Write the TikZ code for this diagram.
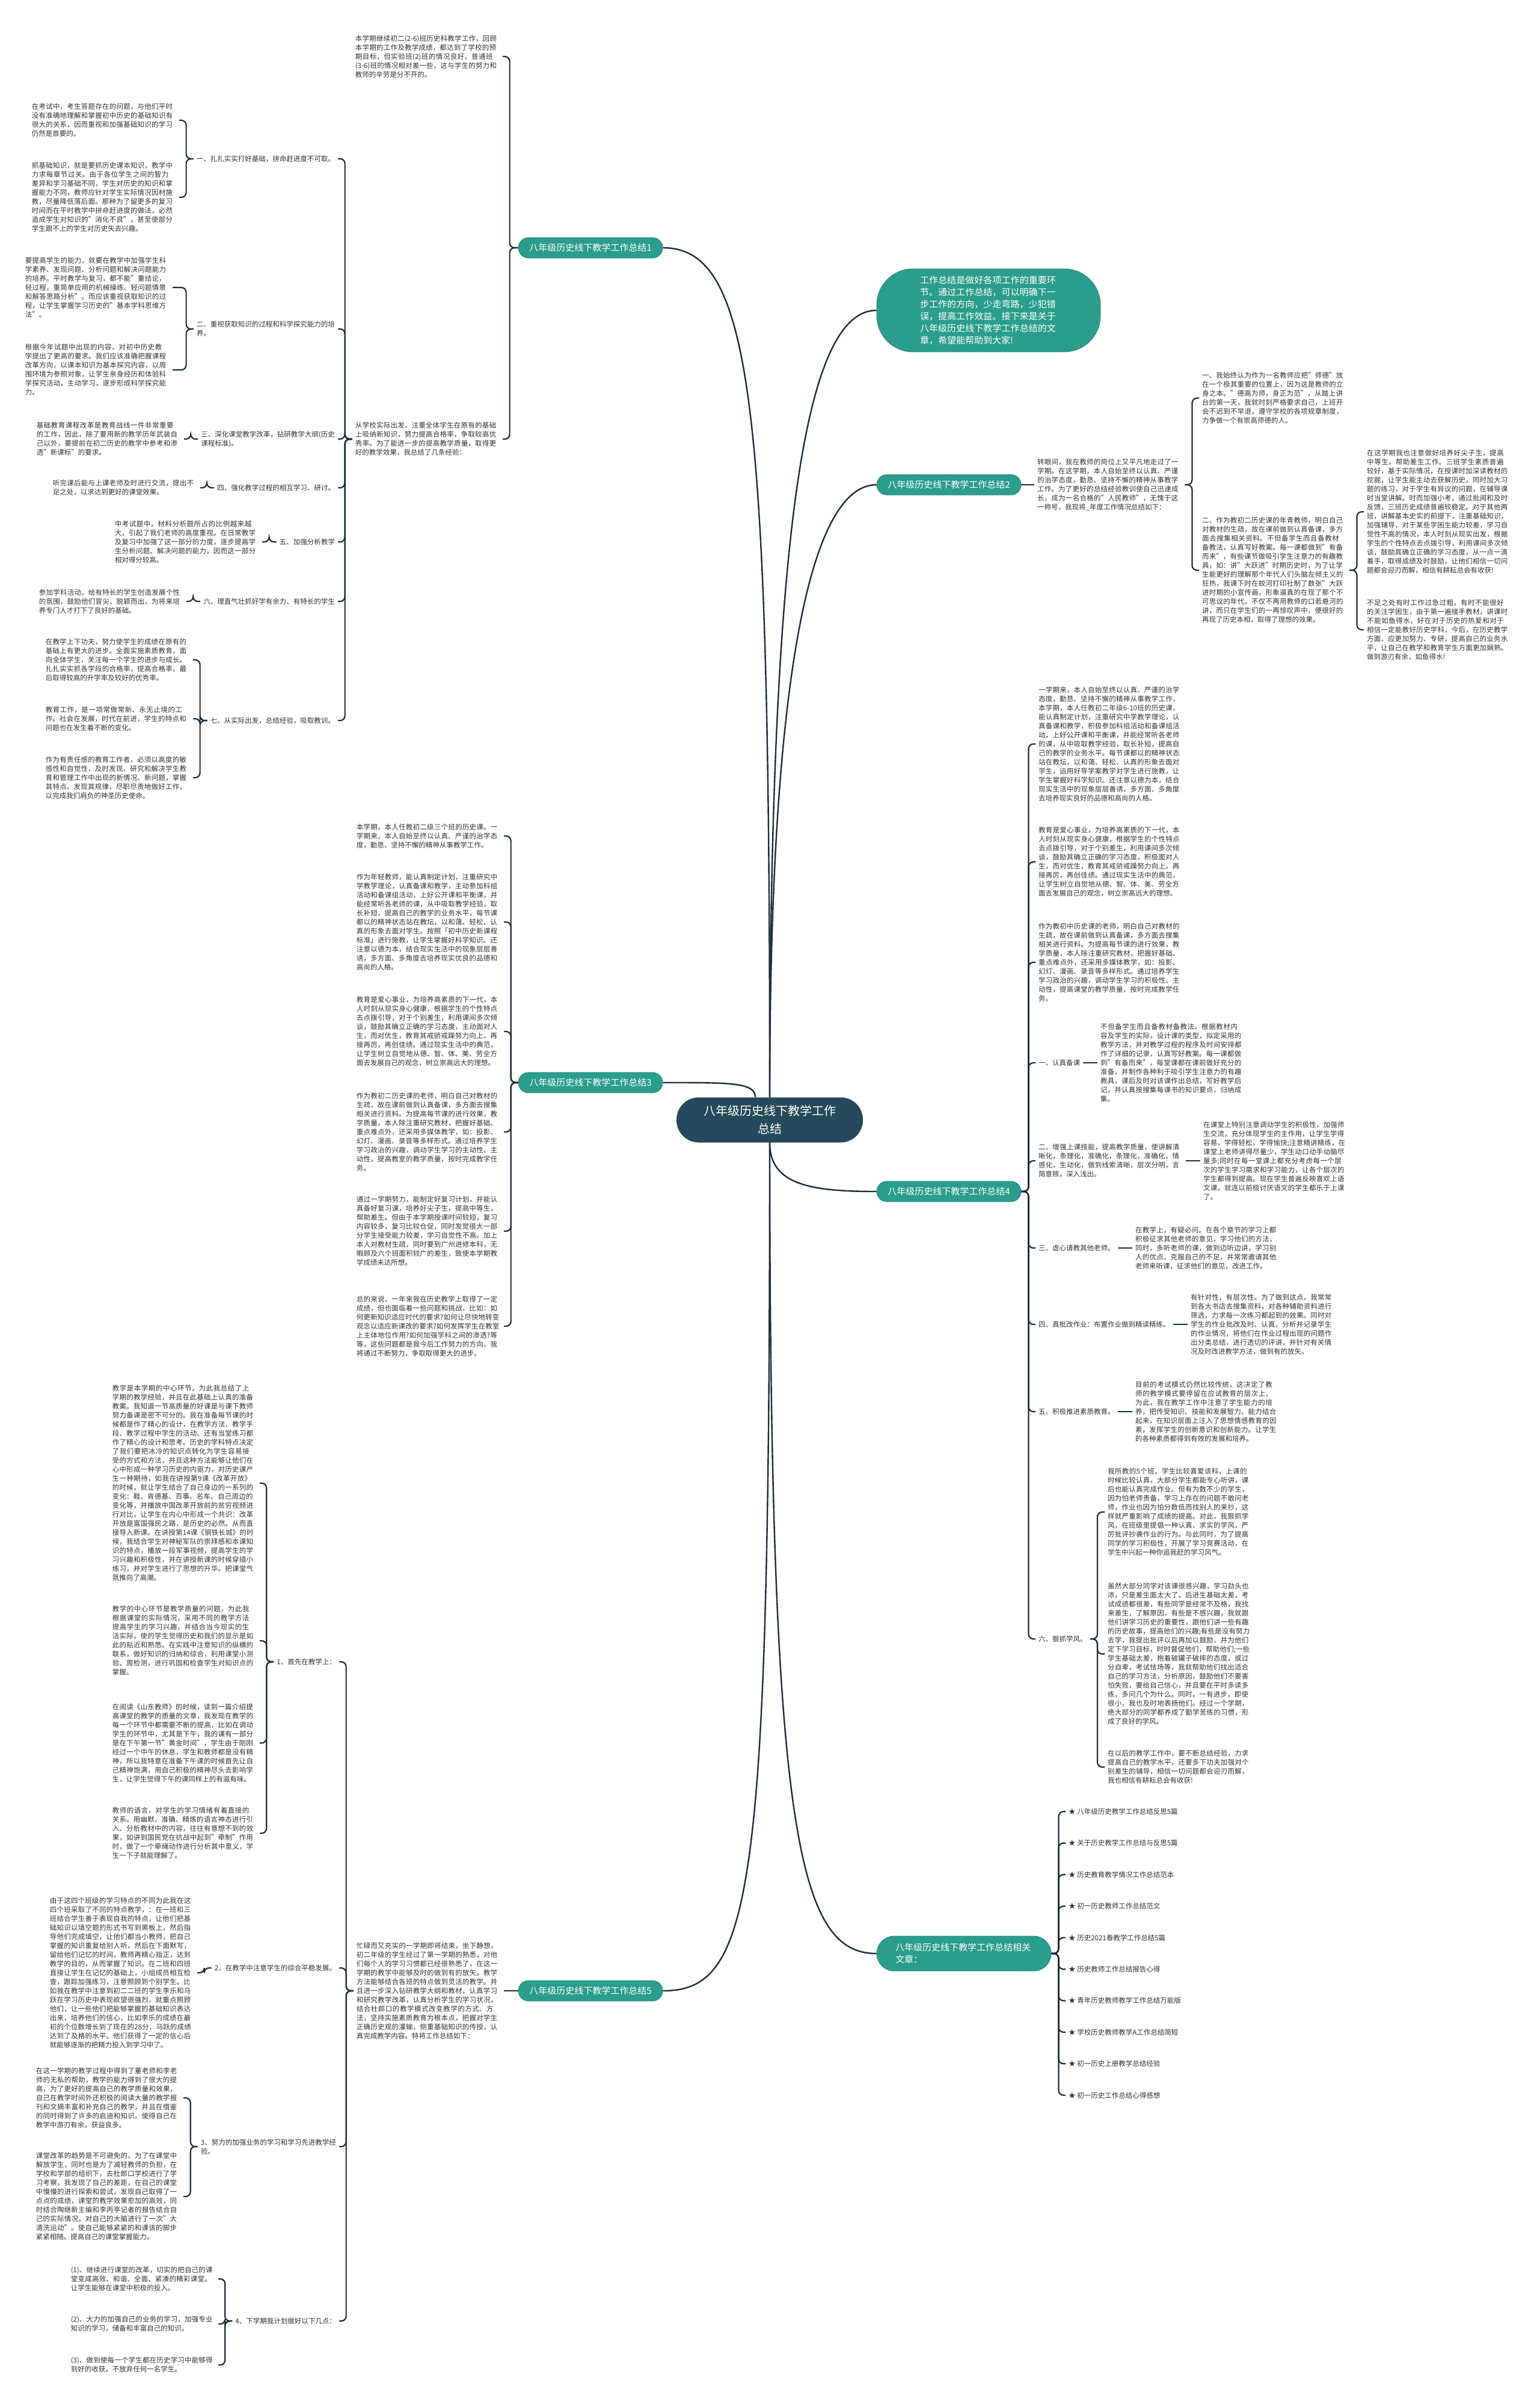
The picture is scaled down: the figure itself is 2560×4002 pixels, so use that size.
\documentclass[tikz,border=0pt]{standalone}
\usepackage{fontspec}
\setmainfont{Noto Sans CJK SC}
\XeTeXlinebreaklocale "zh"
\XeTeXlinebreakskip = 0pt plus 1pt
\definecolor{rootfill}{HTML}{27495B}
\definecolor{topicfill}{HTML}{2B9D8C}
\definecolor{wire}{HTML}{1B2E3A}
\definecolor{ink}{HTML}{333333}
\tikzset{
  rootbox/.style={fill=rootfill, text=white, rounded corners=37pt, minimum width=310pt,
    minimum height=75pt, align=center, font=\fontsize{20}{30}\selectfont},
  topic/.style={fill=topicfill, draw=topicfill!85!black, line width=0.8pt, text=white,
    rounded corners=17pt, minimum width=240pt, minimum height=34pt, font=\fontsize{15}{20}\selectfont},
  para/.style={text width=240pt, align=left, inner xsep=5pt, inner ysep=0pt, text=ink,
    font=\fontsize{11.5}{15}\selectfont},
  tag/.style={align=left, inner xsep=5pt, inner ysep=0pt, text=ink, font=\fontsize{11.5}{15}\selectfont},
  trunk/.style={draw=wire, line width=2.4pt},
  twig/.style={draw=wire, line width=2.2pt, rounded corners=8pt},
}

\begin{document}
\begin{tikzpicture}[x=1pt, y=-1pt]
  \fill[white] (0,0) rectangle (2560,4002);
  \useasboundingbox (0,0) rectangle (2560,4002);
  % Centro
  \node[rootbox] (root) at (1280,1862) {八年级历史线下教学工作\\总结};
  % Ramos
  \node[topic] (t1) at (982,412)  {八年级历史线下教学工作总结1};
  \node[topic, text width=228pt, inner xsep=72pt, align=left, minimum height=138pt,
        rounded corners=60pt] (lead) at (1644,516)
    {工作总结是做好各项工作的重要环节。通过工作总结，可以明确下一步工作的方向，少走弯路，少犯错误，提高工作效益。接下来是关于八年级历史线下教学工作总结的文章，希望能帮助到大家!};
  \node[topic] (t2) at (1578,806)  {八年级历史线下教学工作总结2};
  \node[topic] (t3) at (982,1800)  {八年级历史线下教学工作总结3};
  \node[topic] (t4) at (1578,1981) {八年级历史线下教学工作总结4};
  \node[topic] (t5) at (982,3310)  {八年级历史线下教学工作总结5};
  \node[topic, text width=228pt, inner xsep=31pt, align=left, minimum height=58pt,
        rounded corners=29pt] (rel) at (1603,3248) {八年级历史线下教学工作总结相关\\文章：};
  \draw[trunk] (root.north) .. controls +(0,-1150) and +(150,0) .. (t1.east);
  \draw[trunk] (root.north) .. controls +(0,-1000) and +(-110,0) .. (lead.west);
  \draw[trunk] (root.north) .. controls +(0,-700) and +(-110,0) .. (t2.west);
  \draw[trunk] (t3.east) .. controls +(110,0) and +(0,-25) .. ([xshift=-24pt]root.north);
  \draw[trunk] (root.south) .. controls +(0,70) and +(-110,0) .. (t4.west);
  \draw[trunk] (root.south) .. controls +(0,1250) and +(150,0) .. (t5.east);
  \draw[trunk] (root.south) .. controls +(0,1150) and +(-130,0) .. (rel.west);

  %总结1
  \node[para, anchor=east] (t1a) at (836,94) {本学期继续初二(2-6)班历史科教学工作，回顾本学期的工作及教学成绩，都达到了学校的预期目标，但实验班(2)班的情况良好，普通班(3-6)班的情况相对差一些，这与学生的努力和教师的辛劳是分不开的。};
  \node[para, anchor=east] (t1b) at (836,730) {从学校实际出发，注重全体学生在原有的基础上吸纳新知识，努力提高合格率，争取较高优秀率。为了能进一步的提高教学质量，取得更好的教学效果，我总结了几条经验：};
  \node[tag, anchor=east] (t1l1) at (562,264)  {一、扎扎实实打好基础，拼命赶进度不可取。};
  \node[tag, anchor=east] (t1l2) at (562,547)  {二、重视获取知识的过程和科学探究能力的培\\养。};
  \node[tag, anchor=east] (t1l3) at (562,730)  {三、深化课堂教学改革，钻研教学大纲(历史\\课程标准)。};
  \node[tag, anchor=east] (t1l4) at (562,811)  {四、强化教学过程的相互学习、研讨。};
  \node[tag, anchor=east] (t1l5) at (562,901)  {五、加强分析教学};
  \node[tag, anchor=east] (t1l6) at (562,1000) {六、理直气壮抓好学有余力、有特长的学生};
  \node[tag, anchor=east] (t1l7) at (562,1198) {七、从实际出发，总结经验，吸取教训。};
  \node[para, anchor=east] (t1l1a) at (298,200) {在考试中，考生答题存在的问题，与他们平时没有准确地理解和掌握初中历史的基础知识有很大的关系，因而重视和加强基础知识的学习仍然是首要的。};
  \node[para, anchor=east] (t1l1b) at (298,328) {抓基础知识，就是要抓历史课本知识，教学中力求每章节过关。由于各位学生之间的智力差异和学习基础不同，学生对历史的知识和掌握能力不同，教师应针对学生实际情况因材施教，尽量降低落后面。那种为了留更多的复习时间而在平时教学中拼命赶进度的做法，必然造成学生对知识的"消化不良"，甚至使部分学生跟不上的学生对历史失去兴趣。};
  \node[para, anchor=east] (t1l2a) at (287,478) {要提高学生的能力，就要在教学中加强学生科学素养、发现问题、分析问题和解决问题能力的培养。平时教学与复习，都不能"重结论，轻过程，重简单应用的机械操练、轻问题情景和解答思路分析"。而应该重视获取知识的过程，让学生掌握学习历史的"基本学科思维方法"。};
  \node[para, anchor=east] (t1l2b) at (287,615) {根据今年试题中出现的内容，对初中历史教学提出了更高的要求。我们应该准确把握课程改革方向，以课本知识为基本探究内容，以周围环境为参照对象，让学生亲身经历和体验科学探究活动，主动学习，逐步形成科学探究能力。};
  \node[para, anchor=east] (t1l3a) at (306,730) {基础教育课程改革是教育战线一件非常重要的工作，因此，除了要用新的教学历年武装自己以外，要提前在初二历史的教学中参考和渗透"新课标"的要求。};
  \node[para, anchor=east] (t1l4a) at (333,811) {听完课后能与上课老师及时进行交流，提出不足之处，以求达到更好的课堂效果。};
  \node[para, anchor=east] (t1l5a) at (436,901) {中考试题中，材料分析题所占的比例越来越大，引起了我们老师的高度重视。在日常教学及复习中加强了这一部分的力度，逐步提高学生分析问题、解决问题的能力，因而这一部分相对得分较高。};
  \node[para, anchor=east] (t1l6a) at (310,1000) {参加学科活动，给有特长的学生创造发展个性的氛围，鼓励他们冒尖，脱颖而出，为将来培养专门人才打下了良好的基础。};
  \node[para, anchor=east] (t1l7a) at (321,1097) {在教学上下功夫，努力使学生的成绩在原有的基础上有更大的进步。全面实施素质教育，面向全体学生，关注每一个学生的进步与成长。扎扎实实抓各学段的合格率，提高合格率，最后取得较高的升学率及较好的优秀率。};
  \node[para, anchor=east] (t1l7b) at (321,1195) {教育工作，是一项常做常新、永无止境的工作。社会在发展，时代在前进，学生的特点和问题也在发生着不断的变化。};
  \node[para, anchor=east] (t1l7c) at (321,1293) {作为有责任感的教育工作者，必须以高度的敏感性和自觉性，及时发现、研究和解决学生教育和管理工作中出现的新情况、新问题，掌握其特点、发现其规律，尽职尽责地做好工作，以完成我们肩负的神圣历史使命。};
  \draw[twig] (t1.west) -- ++(-14,0) |- (t1a.east);
  \draw[twig] (t1.west) -- ++(-14,0) |- (t1b.east);
  \foreach \k in {1,...,7}
    \draw[twig] (t1b.west) -- ++(-12,0) |- (t1l\k.east);
  \foreach \p/\c in {1/a,1/b,2/a,2/b,3/a,4/a,5/a,6/a,7/a,7/b,7/c}
    \draw[twig] (t1l\p.west) -- ++(-12,0) |- (t1l\p\c.east);

  % 总结2
  \node[para, anchor=west] (t2a) at (1720,806) {转眼间，我在教师的岗位上又平凡地走过了一学期。在这学期，本人自始至终以认真、严谨的治学态度，勤恳、坚持不懈的精神从事教学工作。为了更好的总结经验教训使自己迅速成长，成为一名合格的"人民教师"，无愧于这一称号，我现将\_年度工作情况总结如下：};
  \node[para, anchor=west] (t2b) at (1994,662) {一、我始终认为作为一名教师应把"师德"放在一个极其重要的位置上，因为这是教师的立身之本。"德高为师，身正为范"，从踏上讲台的第一天，我就时刻严格要求自己，上班开会不迟到不早退，遵守学校的各项规章制度，力争做一个有崇高师德的人。};
  \node[para, anchor=west] (t2c) at (1994,948) {二、作为教初二历史课的年青教师，明白自己对教材的生疏，故在课前做到认真备课，多方面去搜集相关资料。不但备学生而且备教材备教法，认真写好教案。每一课都做到"有备而来"，有些课节做吸引学生注意力的有趣教具，如：讲"大跃进"时期历史时，为了让学生能更好的理解那个年代人们头脑左倾主义的狂热，我课下时在蛟河打印社制了数张"大跃进时期的小宣传画，形象逼真的在现了那个不可思议的年代，不仅不再用教师的口若悬河的讲，而只在学生们的一再惊叹声中，便很好的再现了历史本相，取得了理想的效果。};
  \node[para, anchor=west] (t2c1) at (2268,851) {在这学期我也注意做好培养好尖子生，提高中等生，帮助差生工作。三班学生素质普遍较好，基于实际情况，在授课时加深读教材的挖掘，让学生能主动去获解历史，同时加大习题的练习，对于学生有异议的问题，在辅导课时当堂讲解。时而加强小考，通过批阅和及时反馈，三班历史成绩普遍较稳定。对于其他两班，讲解基本史实的前提下，注重基础知识，加强辅导，对于某些学困生能力较差，学习自觉性不高的情况，本人时刻从现实出发，根据学生的个性特点去点拨引导，利用课间多次倾谈，鼓励其确立正确的学习态度，从一点一滴着手，取得成绩及时鼓励，让他们相信一切问题都会迎刃而解，相信有耕耘总会有收获!};
  \node[para, anchor=west] (t2c2) at (2268,1047) {不足之处有时工作过急过粗，有时不能很好的关注学困生，由于第一遍接手教材，讲课时不能如鱼得水，好在对于历史的热爱和对于相信一定能教好历史学科，今后，在历史教学方面，应更加努力、专研，提高自己的业务水平，让自己在教学和教育学生方面更加娴熟。做到游刃有余，如鱼得水!};
  \draw[twig] (t2.east) -- (t2a.west);
  \draw[twig] (t2a.east) -- ++(12,0) |- (t2b.west);
  \draw[twig] (t2a.east) -- ++(12,0) |- (t2c.west);
  \draw[twig] (t2c.east) -- ++(12,0) |- (t2c1.west);
  \draw[twig] (t2c.east) -- ++(12,0) |- (t2c2.west);

  % 总结3
  \node[para, anchor=east] (t3a) at (838,1390) {本学期，本人任教初二级三个班的历史课。一学期来，本人自始至终以认真、严谨的治学态度，勤恳、坚持不懈的精神从事教学工作。};
  \node[para, anchor=east] (t3b) at (838,1533) {作为年轻教师，能认真制定计划，注重研究中学教学理论，认真备课和教学，主动参加科组活动和备课组活动，上好公开课和平衡课，并能经常听各老师的课，从中吸取教学经验，取长补短，提高自己的教学的业务水平，每节课都以的精神状态站在教坛，以和蔼、轻松、认真的形象去面对学生。按照「初中历史新课程标准」进行施教，让学生掌握好科学知识。还注意以德为本，结合现实生活中的现象层层善诱，多方面、多角度去培养现实优良的品德和高尚的人格。};
  \node[para, anchor=east] (t3c) at (838,1715) {教育是爱心事业，为培养高素质的下一代，本人时刻从现实身心健康，根据学生的个性特点去点拨引导，对于个别差生，利用课间多次倾谈，鼓励其确立正确的学习态度，主动面对人生，而对优生，教育其戒骄戒躁努力向上，再接再厉，再创佳绩。通过现实生活中的典范，让学生树立自觉地从德、智、体、美、劳全方面去发展自己的观念，树立崇高远大的理想。};
  \node[para, anchor=east] (t3d) at (838,1882) {作为教初二历史课的老师，明白自己对教材的生疏，故在课前做到认真备课，多方面去搜集相关进行资料。为提高每节课的进行效果，教学质量，本人除注重研究教材，把握好基础、重点难点外，还采用多媒体教学，如：投影、幻灯、漫画、录音等多样形式。通过培养学生学习政治的兴趣，调动学生学习的主动性、主动性，提高教室的教学质量，按时完成教学任务。};
  \node[para, anchor=east] (t3e) at (838,2047) {通过一学期努力，能制定好复习计划，并能认真备好复习课，培养好尖子生，提高中等生，帮助差生。但由于本学期授课时间较短，复习内容较多，复习比较仓促，同时发觉很大一部分学生接受能力较差，学习自觉性不高。加上本人对教材生疏，同时要到广州进修本科，无暇顾及六个班面积较广的差生，致使本学期教学成绩未达所想。};
  \node[para, anchor=east] (t3f) at (838,2205) {总的来说，一年来我在历史教学上取得了一定成绩，但也面临着一些问题和挑战，比如：如何更新知识适应时代的要求?如何让尽快地转变观念以适应新课改的要求?如何发挥学生在教室上主体地位作用?如何加强学科之间的渗透?等等，这些问题都是我今后工作努力的方向，我将通过不断努力，争取取得更大的进步。};
  \foreach \k in {a,...,f}
    \draw[twig] (t3.west) -- ++(-12,0) |- (t3\k.east);

  % 总结4
  \node[para, anchor=west] (t4a) at (1722,1237) {一学期来，本人自始至终以认真、严谨的治学态度，勤恳、坚持不懈的精神从事教学工作，本学期，本人任教初二年级6-10班的历史课，能认真制定计划，注重研究中学教学理论，认真备课和教学，积极参加科组活动和备课组活动，上好公开课和平衡课，并能经常听各老师的课，从中吸取教学经验，取长补短，提高自己的教学的业务水平。每节课都以的精神状态站在教坛，以和蔼、轻松、认真的形象去面对学生，运用好导学案教学对学生进行施教，让学生掌握好科学知识。还注意以德为本，结合现实生活中的现象层层善诱，多方面、多角度去培养现实良好的品德和高尚的人格。};
  \node[para, anchor=west] (t4b) at (1722,1433) {教育是爱心事业，为培养高素质的下一代，本人时刻从现实身心健康，根据学生的个性特点去点拨引导，对于个别差生，利用课间多次倾谈，鼓励其确立正确的学习态度，积极面对人生，而对优生，教育其戒骄戒躁努力向上，再接再厉，再创佳绩。通过现实生活中的典范，让学生树立自觉地从德、智、体、美、劳全方面去发展自己的观念，树立崇高远大的理想。};
  \node[para, anchor=west] (t4c) at (1722,1600) {作为教初中历史课的老师，明白自己对教材的生疏，故在课前做到认真备课，多方面去搜集相关进行资料。为提高每节课的进行效果，教学质量，本人除注重研究教材，把握好基础、重点难点外，还采用多媒体教学，如：投影、幻灯、漫画、录音等多样形式。通过培养学生学习政治的兴趣，调动学生学习的积极性、主动性，提高课堂的教学质量，按时完成教学任务。};
  \node[tag,  anchor=west] (t4l1) at (1722,1767) {一、认真备课};
  \node[para, anchor=west] (t4l2) at (1722,1930) {二、增强上课技能，提高教学质量，使讲解清晰化，条理化，准确化，条理化，准确化，情感化，生动化，做到线索清晰，层次分明，言简意赅，深入浅出。};
  \node[tag,  anchor=west] (t4l3) at (1722,2075) {三、虚心请教其他老师。};
  \node[tag,  anchor=west] (t4l4) at (1722,2202) {四、真批改作业：布置作业做到精读精练。};
  \node[tag,  anchor=west] (t4l5) at (1722,2347) {五、积极推进素质教育。};
  \node[tag,  anchor=west] (t4l6) at (1722,2725) {六、狠抓学风。};
  \node[para, anchor=west] (t4l1a) at (1825,1767) {不但备学生而且备教材备教法，根据教材内容及学生的实际，设计课的类型，拟定采用的教学方法，并对教学过程的程序及时间安排都作了详细的记录，认真写好教案。每一课都做到"有备而来"，每堂课都在课前做好充分的准备，并制作各种利于吸引学生注意力的有趣教具，课后及时对该课作出总结，写好教学后记，并认真按搜集每课书的知识要点，归纳成集。};
  \node[para, anchor=west] (t4l2a) at (1996,1930) {在课堂上特别注意调动学生的积极性，加强师生交流，充分体现学生的主作用，让学生学得容易，学得轻松，学得愉快;注意精讲精练，在课堂上老师讲得尽量少，学生动口动手动脑尽量多;同时在每一堂课上都充分考虑每一个层次的学生学习需求和学习能力，让各个层次的学生都得到提高。现在学生普遍反映喜欢上语文课，就连以前极讨厌语文的学生都乐于上课了。};
  \node[para, anchor=west] (t4l3a) at (1883,2075) {在教学上，有疑必问。在各个章节的学习上都积极征求其他老师的意见，学习他们的方法，同时，多听老师的课，做到边听边讲，学习别人的优点，克服自己的不足，并常常邀请其他老师来听课，征求他们的意见，改进工作。};
  \node[para, anchor=west] (t4l4a) at (1975,2202) {有针对性，有层次性。为了做到这点，我常常到各大书店去搜集资料，对各种辅助资料进行筛选，力求每一次练习都起到的效果。同时对学生的作业批改及时、认真，分析并记录学生的作业情况，将他们在作业过程出现的问题作出分类总结，进行透切的评讲，并针对有关情况及时改进教学方法，做到有的放矢。};
  \node[para, anchor=west] (t4l5a) at (1883,2347) {目前的考试模式仍然比较传统，这决定了教师的教学模式要停留在应试教育的层次上，为此，我在教学工作中注意了学生能力的培养，把传受知识、技能和发展智力、能力结合起来，在知识层面上注入了思想情感教育的因素，发挥学生的创新意识和创新能力。让学生的各种素质都得到有效的发展和培养。};
  \node[para, anchor=west] (t4l6a) at (1837,2514) {我所教的5个班，学生比较喜爱该科，上课的时候比较认真，大部分学生都能专心听讲，课后也能认真完成作业。但有为数不少的学生，因为怕老师责备，学习上存在的问题不敢问老师，作业也因为怕分数低而找别人的来抄，这样就严重影响了成绩的提高。对此，我狠抓学风，在班级里提倡一种认真、求实的学风，严厉批评抄袭作业的行为。与此同时，为了提高同学的学习积极性，开展了学习竞赛活动，在学生中兴起一种你追我赶的学习风气。};
  \node[para, anchor=west] (t4l6b) at (1837,2750) {虽然大部分同学对该课很感兴趣，学习劲头也浓，只是差生面太大了，后进生基础太差，考试成绩都很差，有些同学是经常不及格，我找来差生，了解原因，有些是不感兴趣，我就跟他们讲学习历史的重要性，跟他们讲一些有趣的历史故事，提高他们的兴趣;有些是没有努力去学，我提出批评以后再加以鼓励，并为他们定下学习目标，时时督促他们，帮助他们;一些学生基础太差，抱着破罐子破摔的态度，或过分自卑，考试怯场等，我就帮助他们找出适合自己的学习方法，分析原因，鼓励他们不要害怕失败，要给自己信心，并且要在平时多读多练，多问几个为什么。同时，一有进步，即使很小，我也及时地表扬他们。经过一个学期，绝大部分的同学都养成了勤学苦练的习惯，形成了良好的学风。};
  \node[para, anchor=west] (t4l6c) at (1837,2938) {在以后的教学工作中，要不断总结经验，力求提高自己的教学水平，还要多下功夫加强对个别差生的辅导，相信一切问题都会迎刃而解，我也相信有耕耘总会有收获!};
  \foreach \k in {t4a,t4b,t4c,t4l1,t4l2,t4l3,t4l4,t4l5,t4l6}
    \draw[twig] (t4.east) -- ++(12,0) |- (\k.west);
  \foreach \k in {1,...,5}
    \draw[twig] (t4l\k.east) -- (t4l\k a.west);
  \foreach \c in {a,b,c}
    \draw[twig] (t4l6.east) -- ++(12,0) |- (t4l6\c.west);

  % 相关文章
  \foreach \s [count=\i from 0] in {八年级历史教学工作总结反思5篇, 关于历史教学工作总结与反思5篇,
      历史教育教学情况工作总结范本, 初一历史教师工作总结范文, 历史2021春教学工作总结5篇,
      历史教师工作总结报告心得, 青年历史教师教学工作总结万能版, 学校历史教师教学A工作总结简短,
      初一历史上册教学总结经验, 初一历史工作总结心得感想} {
    \node[tag, anchor=west] (r\i) at (1772,{3012+52.4*\i}) {★ \s};
    \draw[twig] (rel.east) -- ++(12,0) |- (r\i.west);
  }

  % 总结5
  \node[para, anchor=east] (t5a) at (838,3310) {忙碌而又充实的一学期即将结束，坐下静想，初二年级的学生经过了第一学期的熟悉，对他们每个人的学习习惯都已经很熟悉了，在这一学期的教学中能够及时的做到有的放矢。教学方法能够结合各班的特点做到灵活的教学。并且进一步深入钻研教学大纲和教材，认真学习和研究教学改革，认真分析学生的学习状况，结合杜郎口的教学模式改变教学的方式、方法，坚持实施素质教育为根本点，把握对学生正确历史观的灌输，侧重基础知识的传授，认真完成教学内容。特将工作总结如下：};
  \node[tag, anchor=east] (t5l1) at (564,2763) {1、首先在教学上：};
  \node[tag, anchor=east] (t5l2) at (564,3272) {2、在教学中注意学生的综合平稳发展。};
  \node[tag, anchor=east] (t5l3) at (564,3569) {3、努力的加强业务的学习和学习先进教学经\\验。};
  \node[tag, anchor=east] (t5l4) at (564,3859) {4、下学期我计划做好以下几点：};
  \node[para, anchor=east] (t5l1a) at (432,2466) {教学是本学期的中心环节，为此我总结了上学期的教学经验，并且在此基础上认真的准备教案。我知道一节高质量的好课是与课下教师努力备课是密不可分的。我在准备每节课的时候都是作了精心的设计，在教学方法、教学手段、教学过程中学生的活动、还有当堂练习都作了精心的设计和思考。历史的学科特点决定了我们要把冰冷的知识点转化为学生容易接受的方式和方法，并且这种方法能够让他们在心中形成一种学习历史的内驱力，对历史课产生一种期待，如我在讲授第9课《改革开放》的时候，就让学生结合了自己身边的一系列的变化：鞋、肯德基、百事、名车、自己周边的变化等，并播放中国改革开放前的贫穷视频进行对比，让学生在内心中形成一个共识：改革开放是富国强民之路，是历史的必然。从而直接导入新课。在讲授第14课《钢铁长城》的时候，我结合学生对神秘军队的崇拜感和本课知识的特点，播放一段军事视频，提高学生的学习兴趣和积极性，并在讲授新课的时候穿插小练习，并对学生进行了思想的升华。把课堂气氛推向了高潮。};
  \node[para, anchor=east] (t5l1b) at (432,2728) {教学的中心环节是教学质量的问题，为此我根据课堂的实际情况，采用不同的教学方法提高学生的学习兴趣，并结合当今现实的生活实际，使的学生觉得历史和我们的显示是如此的贴近和熟悉。在实践中注意知识的纵横的联系，做好知识的归纳和综合，利用课堂小测验、周检测，进行巩固和检查学生对知识点的掌握。};
  \node[para, anchor=east] (t5l1c) at (432,2898) {在阅读《山东教师》的时候，读到一篇介绍提高课堂的教学的质量的文章，我发现在教学的每一个环节中都需要不断的提高，比如在调动学生的环节中，尤其是下午，我的课有一部分是在下午第一节"黄金时间"，学生由于刚刚经过一个中午的休息，学生和教师都是没有精神，所以我特意在准备下午课的时候首先让自己精神饱满，用自己积极的精神尽头去影响学生，让学生觉得下午的课同样上的有滋有味。};
  \node[para, anchor=east] (t5l1d) at (432,3048) {教师的语言，对学生的学习情绪有着直接的关系。用幽默、准确、精炼的语言神态进行引入、分析教材中的内容，往往有意想不到的效果，如讲到国民党在抗战中起到"牵制"作用时，做了一个牵绳动作进行分析其中意义，学生一下子就能理解了。};
  \node[para, anchor=east] (t5l2a) at (328,3280) {由于这四个班级的学习特点的不同为此我在这四个班采取了不同的特点教学，：在一班和三班结合学生善于表现自我的特点，让他们把基础知识以填空题的形式书写到黑板上，然后指导他们完成填空，让他们都当小教师，把自己掌握的知识重复给别人听，然后在下面默写，留给他们记忆的时间，教师再精心指正，达到教学的目的，从而掌握了知识。在二班和四班直接让学生在记忆的基础上，小组成员相互检查，跟踪加强练习，注意照顾到个别学生。比如我在教学中注意到初二二班的学生李乐和马跃在学习历史中表现欲望很强烈，就重点照顾他们，让一些他们把能够掌握的基础知识表达出来，培养他们的信心，比如李乐的成绩在最初的个位数增长到了现在的28分，马跃的成绩达到了及格的水平。他们获得了一定的信心后就能够逐渐的把精力投入到学习中了。};
  \node[para, anchor=east] (t5l3a) at (305,3488) {在这一学期的教学过程中得到了董老师和李老师的无私的帮助，教学的能力得到了很大的提高，为了更好的提高自己的教学质量和效果，自己在教学时间外还积极的阅读大量的教学报刊和文摘丰富和补充自己的教学，并且在借鉴的同时得到了许多的启迪和知识。使得自己在教学中游刃有余。获益良多。};
  \node[para, anchor=east] (t5l3b) at (305,3652) {课堂改革的趋势是不可避免的，为了在课堂中解放学生，同时也是为了减轻教师的负担，在学校和学部的组织下，去杜郎口学校进行了学习考察，我发现了自己的差距，在自己的课堂中慢慢的进行探索和尝试，发现自己取得了一点点的成绩，课堂的教学效果愈加的高效，同时结合陶继新主编和李丙亭记者的报告结合自己的实际情况，对自己的大脑进行了一次"大清洗运动"。使自己能够紧紧的和课该的脚步紧紧相随。提高自己的课堂掌握能力。};
  \node[para, anchor=east] (t5l4a) at (363,3789) {(1)、继续进行课堂的改革，切实的把自己的课堂变成高效、和谐、全面、紧凑的精彩课堂。让学生能够在课堂中积极的投入。};
  \node[para, anchor=east] (t5l4b) at (363,3864) {(2)、大力的加强自己的业务的学习，加强专业知识的学习，储备和丰富自己的知识。};
  \node[para, anchor=east] (t5l4c) at (363,3932) {(3)、做到使每一个学生都在历史学习中能够得到好的收获。不放弃任何一名学生。};
  \draw[twig] (t5.west) -- (t5a.east);
  \foreach \k in {1,...,4}
    \draw[twig] (t5a.west) -- ++(-12,0) |- (t5l\k.east);
  \foreach \p/\c in {1/a,1/b,1/c,1/d,2/a,3/a,3/b,4/a,4/b,4/c}
    \draw[twig] (t5l\p.west) -- ++(-12,0) |- (t5l\p\c.east);
\end{tikzpicture}
\end{document}
